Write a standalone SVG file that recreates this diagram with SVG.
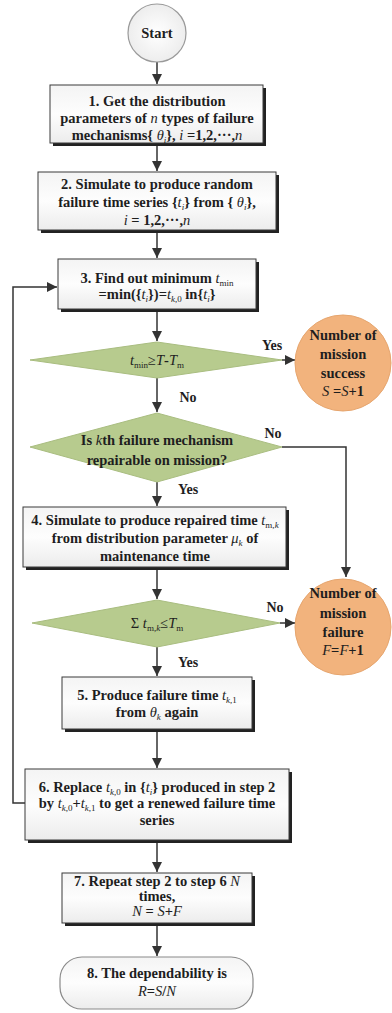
<svg xmlns="http://www.w3.org/2000/svg" width="392" height="1013" viewBox="0 0 392 1013">
  <defs>
    <linearGradient id="boxFill" x1="0" y1="0" x2="0" y2="1">
      <stop offset="0" stop-color="#f4f4f4"/>
      <stop offset="0.5" stop-color="#fdfdfd"/>
      <stop offset="1" stop-color="#ececec"/>
    </linearGradient>
    <radialGradient id="startFill" cx="0.5" cy="0.5" r="0.5">
      <stop offset="0" stop-color="#ffffff"/>
      <stop offset="1" stop-color="#ededed"/>
    </radialGradient>
    <marker id="arrow" markerUnits="userSpaceOnUse" markerWidth="10" markerHeight="10" refX="10" refY="5" orient="auto">
      <path d="M0,0 L10,5 L0,10 z" fill="#333"/>
    </marker>
    <style>
      text { font-family: "Liberation Serif", "Times New Roman", "DejaVu Serif", serif; font-size: 14.5px; font-weight: bold; fill: #1e1e1e; text-anchor: middle; }
      .v { font-style: italic; font-weight: normal; }
      .sub { font-size: 9px; font-weight: normal; }
      .subv { font-size: 9px; font-style: italic; font-weight: normal; }
      .lbl { font-size: 14px; }
      .shadow { fill: #222; }
      .box { fill: url(#boxFill); stroke: #3a3a3a; stroke-width: 1; }
      .dec { fill: #b7cb8e; stroke: #a9bd80; stroke-width: 1; }
      .end { fill: #f2b37d; stroke: #e6a56e; stroke-width: 1; }
      .start { fill: url(#startFill); stroke: #9a9a9a; stroke-width: 1.2; }
      .term { fill: url(#boxFill); stroke: #8a8a8a; stroke-width: 1.2; }
      .link { fill: none; stroke: #333; stroke-width: 1.5; }
    </style>
  </defs>

  <rect x="0" y="0" width="392" height="1013" fill="#ffffff"/>

  <!-- connectors -->
  <g id="connectors">
    <path class="link" marker-end="url(#arrow)" d="M157,62 V84"/>
    <path class="link" marker-end="url(#arrow)" d="M157,146 V171"/>
    <path class="link" marker-end="url(#arrow)" d="M157,233 V258"/>
    <path class="link" marker-end="url(#arrow)" d="M157,312 V341"/>
    <path class="link" marker-end="url(#arrow)" d="M282,360 H295"/>
    <path class="link" marker-end="url(#arrow)" d="M157,378 V412"/>
    <path class="link" marker-end="url(#arrow)" d="M282,447 H346 V577"/>
    <path class="link" marker-end="url(#arrow)" d="M157,482 V506"/>
    <path class="link" marker-end="url(#arrow)" d="M157,570 V599"/>
    <path class="link" marker-end="url(#arrow)" d="M280,623 H295"/>
    <path class="link" marker-end="url(#arrow)" d="M157,647 V676"/>
    <path class="link" marker-end="url(#arrow)" d="M157,732 V768"/>
    <path class="link" marker-end="url(#arrow)" d="M25,803 H13 V287 H57"/>
    <path class="link" marker-end="url(#arrow)" d="M157,843 V872"/>
    <path class="link" marker-end="url(#arrow)" d="M157,926 V956"/>
    <text class="lbl" x="272" y="350">Yes</text>
    <text class="lbl" x="188" y="402">No</text>
    <text class="lbl" x="273" y="438">No</text>
    <text class="lbl" x="188" y="494">Yes</text>
    <text class="lbl" x="275" y="612">No</text>
    <text class="lbl" x="188" y="667">Yes</text>
  </g>

  <!-- start -->
  <g id="start">
    <circle class="start" cx="157" cy="33" r="29"/>
    <text x="157" y="38">Start</text>
  </g>

  <!-- step 1 -->
  <g id="step1">
    <rect class="shadow" x="53" y="88" width="213" height="58"/>
    <rect class="box" x="50" y="85" width="213" height="58"/>
    <text x="157" y="106">1. Get the distribution</text>
    <text x="157" y="123">parameters of <tspan class="v">n</tspan> types of failure</text>
    <text x="157" y="140">mechanisms{ <tspan class="v">θ</tspan><tspan class="subv" dy="3">i</tspan><tspan dy="-3">}, </tspan><tspan class="v">i</tspan> =1,2,···,<tspan class="v">n</tspan></text>
  </g>

  <!-- step 2 -->
  <g id="step2">
    <rect class="shadow" x="41" y="175" width="238" height="58"/>
    <rect class="box" x="38" y="172" width="238" height="58"/>
    <text x="157" y="189">2. Simulate to produce random</text>
    <text x="157" y="207">failure time series {<tspan class="v">t</tspan><tspan class="subv" dy="3">i</tspan><tspan dy="-3">} from { </tspan><tspan class="v">θ</tspan><tspan class="subv" dy="3">i</tspan><tspan dy="-3">},</tspan></text>
    <text x="157" y="225"><tspan class="v">i</tspan> = 1,2,···,<tspan class="v">n</tspan></text>
  </g>

  <!-- step 3 -->
  <g id="step3">
    <rect class="shadow" x="61" y="262" width="198" height="50"/>
    <rect class="box" x="58" y="259" width="198" height="50"/>
    <text x="157" y="283">3. Find out minimum <tspan class="v">t</tspan><tspan class="sub" dy="3">min</tspan></text>
    <text x="157" y="299">=min({<tspan class="v">t</tspan><tspan class="subv" dy="3">i</tspan><tspan dy="-3">})=</tspan><tspan class="v">t</tspan><tspan class="subv" dy="3">k</tspan><tspan class="sub">,0</tspan><tspan dy="-3"> in{</tspan><tspan class="v">t</tspan><tspan class="subv" dy="3">i</tspan><tspan dy="-3">}</tspan></text>
  </g>

  <!-- decision: time left -->
  <g id="check-time">
    <polygon class="dec" points="30,360 157,342 282,360 157,378"/>
    <text x="157" y="365"><tspan class="v">t</tspan><tspan class="sub" dy="3">min</tspan><tspan dy="-3" font-weight="normal">≥</tspan><tspan class="v">T</tspan>-<tspan class="v">T</tspan><tspan class="sub" dy="3">m</tspan></text>
  </g>

  <!-- mission success -->
  <g id="success">
    <circle class="end" cx="343" cy="363" r="48"/>
    <text x="343" y="340">Number of</text>
    <text x="343" y="359">mission</text>
    <text x="343" y="378">success</text>
    <text x="343" y="396"><tspan class="v">S</tspan> =<tspan class="v">S</tspan>+1</text>
  </g>

  <!-- decision: repairable -->
  <g id="check-repair">
    <polygon class="dec" points="30,447 157,413 282,447 157,482"/>
    <text x="157" y="445">Is <tspan class="v">k</tspan>th failure mechanism</text>
    <text x="157" y="465">repairable on mission?</text>
  </g>

  <!-- step 4 -->
  <g id="step4">
    <rect class="shadow" x="26" y="510" width="263" height="60"/>
    <rect class="box" x="23" y="507" width="263" height="60"/>
    <text x="155" y="525">4. Simulate to produce repaired time <tspan class="v">t</tspan><tspan class="sub" dy="3">m,</tspan><tspan class="subv">k</tspan></text>
    <text x="155" y="543">from distribution parameter  <tspan class="v">μ</tspan><tspan class="subv" dy="3">k</tspan><tspan dy="-3"> of</tspan></text>
    <text x="155" y="561">maintenance time</text>
  </g>

  <!-- decision: repair time -->
  <g id="check-repair-time">
    <polygon class="dec" points="32,623 157,600 280,623 157,647"/>
    <text x="157" y="628"><tspan font-weight="normal">Σ</tspan> <tspan class="v">t</tspan><tspan class="sub" dy="3">m,</tspan><tspan class="subv">k</tspan><tspan dy="-3" font-weight="normal">≤</tspan><tspan class="v">T</tspan><tspan class="sub" dy="3">m</tspan></text>
  </g>

  <!-- mission failure -->
  <g id="failure">
    <circle class="end" cx="343" cy="627" r="48"/>
    <text x="343" y="598">Number of</text>
    <text x="343" y="618">mission</text>
    <text x="343" y="637">failure</text>
    <text x="343" y="655"><tspan class="v">F</tspan>=<tspan class="v">F</tspan>+1</text>
  </g>

  <!-- step 5 -->
  <g id="step5">
    <rect class="shadow" x="65" y="680" width="190" height="52"/>
    <rect class="box" x="62" y="677" width="190" height="52"/>
    <text x="157" y="700">5. Produce failure time <tspan class="v">t</tspan><tspan class="subv" dy="3">k</tspan><tspan class="sub">,1</tspan></text>
    <text x="157" y="717">from  <tspan class="v">θ</tspan><tspan class="subv" dy="3">k</tspan><tspan dy="-3"> again</tspan></text>
  </g>

  <!-- step 6 -->
  <g id="step6">
    <rect class="shadow" x="28" y="772" width="264" height="71"/>
    <rect class="box" x="25" y="769" width="264" height="71"/>
    <text x="157" y="792">6. Replace <tspan class="v">t</tspan><tspan class="subv" dy="3">k</tspan><tspan class="sub">,0</tspan><tspan dy="-3"> in {</tspan><tspan class="v">t</tspan><tspan class="subv" dy="3">i</tspan><tspan dy="-3">}  produced in step 2</tspan></text>
    <text x="157" y="808">by <tspan class="v">t</tspan><tspan class="subv" dy="3">k</tspan><tspan class="sub">,0</tspan><tspan dy="-3">+</tspan><tspan class="v">t</tspan><tspan class="subv" dy="3">k</tspan><tspan class="sub">,1</tspan><tspan dy="-3"> to get a renewed failure time</tspan></text>
    <text x="157" y="825">series</text>
  </g>

  <!-- step 7 -->
  <g id="step7">
    <rect class="shadow" x="65" y="876" width="190" height="50"/>
    <rect class="box" x="62" y="873" width="190" height="50"/>
    <text x="157" y="886">7. Repeat step 2 to step 6 <tspan class="v">N</tspan></text>
    <text x="157" y="901">times,</text>
    <text x="157" y="916"><tspan class="v">N</tspan> = <tspan class="v">S</tspan>+<tspan class="v">F</tspan></text>
  </g>

  <!-- step 8 -->
  <g id="step8">
    <rect class="term" x="60" y="957" width="193" height="52" rx="22" ry="22"/>
    <text x="157" y="978">8. The dependability is</text>
    <text x="157" y="996"><tspan class="v">R</tspan>=<tspan class="v">S</tspan>/<tspan class="v">N</tspan></text>
  </g>
</svg>
